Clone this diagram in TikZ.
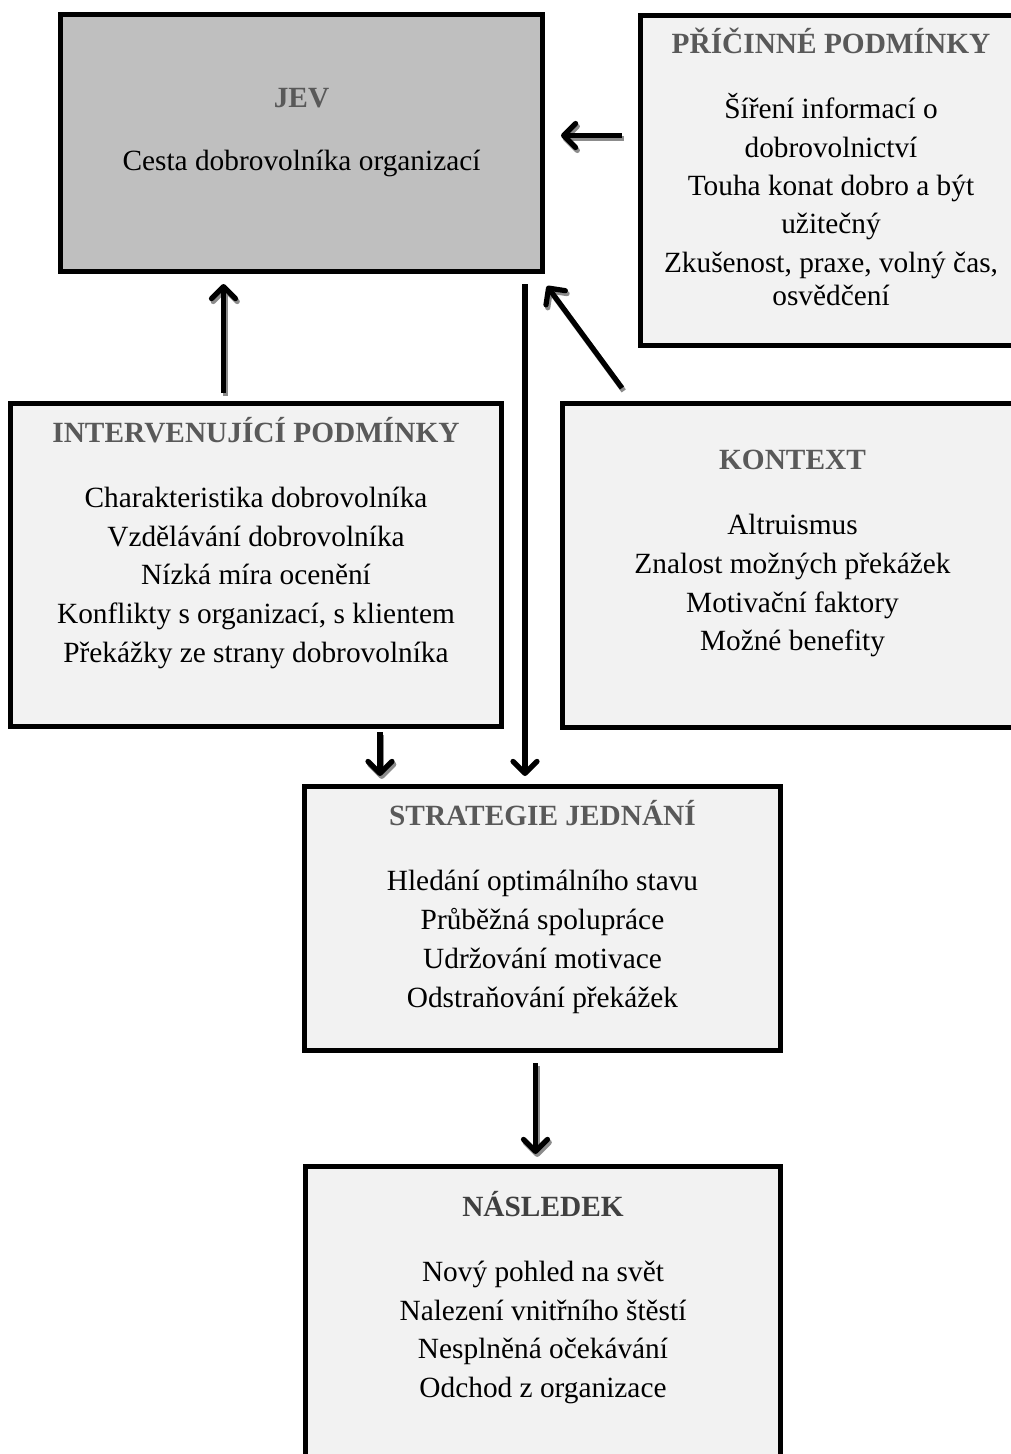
\documentclass[tikz,border=0pt]{standalone}
\usepackage{fontspec}
\setmainfont{Liberation Serif}
\usetikzlibrary{arrows.meta}
\newdimen\PX \PX=0.75pt
\definecolor{boxfill}{HTML}{F2F2F2}
\definecolor{jevfill}{HTML}{BFBFBF}
\definecolor{titlegray}{HTML}{595959}
\definecolor{titledark}{HTML}{404040}
\definecolor{shadowgray}{HTML}{8C8C8C}
\tikzset{
  box/.style={draw=black, line width=5\PX, fill=boxfill, rectangle, inner sep=0pt},
  ttl/.style={anchor=base, inner sep=0pt, font=\fontsize{22}{26}\selectfont\bfseries, text=titlegray},
  txt/.style={anchor=base, inner sep=0pt, font=\fontsize{22}{26}\selectfont, text=black},
  arr/.style={line width=3.9pt, -{Straight Barb[length=9pt,width=18pt,round]}},
  arrshadow/.style={arr, draw=shadowgray, transform canvas={shift={(1.3pt,-2.2pt)}}},
}
\begin{document}
\begin{tikzpicture}[x=0.75pt, y=-0.75pt]
\useasboundingbox (0,0) rectangle (1011,1454);
\clip (0,0) rectangle (1011,1454);

% boxes
\node[box, fill=jevfill, minimum width=482\PX, minimum height=257\PX] (jev) at (301.5,143) {};
\node[box, minimum width=381\PX, minimum height=330\PX] (pric) at (831,180) {};
\node[box, minimum width=491\PX, minimum height=323\PX] (interv) at (256,565) {};
\node[box, minimum width=460\PX, minimum height=323.5\PX] (kont) at (792.5,565.25) {};
\node[box, minimum width=476\PX, minimum height=264\PX] (strat) at (542.5,918.5) {};
\node[box, minimum width=475\PX, minimum height=313.5\PX] (nasl) at (543,1323.25) {};

% JEV
\node[ttl] (jevT) at (301.5,107) {JEV};
\node[txt] (jev1) at (301.5,170) {Cesta dobrovolníka organizací};

% PRICINNE PODMINKY
\node[ttl] (pricT) at (831,53) {PŘÍČINNÉ PODMÍNKY};
\node[txt] (pric1) at (831,118) {Šíření informací o};
\node[txt] (pric2) at (831,157) {dobrovolnictví};
\node[txt] (pric3) at (831,195) {Touha konat dobro a být};
\node[txt] (pric4) at (831,233) {užitečný};
\node[txt] (pric5) at (831,272) {Zkušenost, praxe, volný čas,};
\node[txt] (pric6) at (831,305) {osvědčení};

% INTERVENUJICI PODMINKY
\node[ttl] (intT) at (256,442) {INTERVENUJÍCÍ PODMÍNKY};
\node[txt] (int1) at (256,507) {Charakteristika dobrovolníka};
\node[txt] (int2) at (256,546) {Vzdělávání dobrovolníka};
\node[txt] (int3) at (256,584) {Nízká míra ocenění};
\node[txt] (int4) at (256,623) {Konflikty s organizací, s klientem};
\node[txt] (int5) at (256,662) {Překážky ze strany dobrovolníka};

% KONTEXT
\node[ttl] (konT) at (792.5,469) {KONTEXT};
\node[txt] (kon1) at (792.5,534) {Altruismus};
\node[txt] (kon2) at (792.5,573) {Znalost možných překážek};
\node[txt] (kon3) at (792.5,612) {Motivační faktory};
\node[txt] (kon4) at (792.5,650) {Možné benefity};

% STRATEGIE JEDNANI
\node[ttl] (strT) at (542.5,825) {STRATEGIE JEDNÁNÍ};
\node[txt] (str1) at (542.5,890) {Hledání optimálního stavu};
\node[txt] (str2) at (542.5,929) {Průběžná spolupráce};
\node[txt] (str3) at (542.5,968) {Udržování motivace};
\node[txt] (str4) at (542.5,1007) {Odstraňování překážek};

% NASLEDEK
\node[ttl, text=titledark] (nasT) at (543,1216) {NÁSLEDEK};
\node[txt] (nas1) at (543,1281) {Nový pohled na svět};
\node[txt] (nas2) at (543,1320) {Nalezení vnitřního štěstí};
\node[txt] (nas3) at (543,1358) {Nesplněná očekávání};
\node[txt] (nas4) at (543,1397) {Odchod z organizace};

% connector end points
\coordinate (pricOut) at (622,135.5);
\coordinate (jevInR) at (561,135.5);
\coordinate (intOut) at (223.5,393);
\coordinate (jevInB) at (223.5,284);
\coordinate (konOut) at (622,388);
\coordinate (jevInC) at (547,286);
\coordinate (jevOut) at (525,284);
\coordinate (strInA) at (525,776);
\coordinate (intOutB) at (380,732);
\coordinate (strInB) at (380,776);
\coordinate (strOut) at (535.5,1063);
\coordinate (nasIn) at (535.5,1154);

% shadows
\draw[arrshadow] (pricOut) -- (jevInR);
\draw[arrshadow] (intOut) -- (jevInB);
\draw[arrshadow] (konOut) -- (jevInC);
\draw[arrshadow] (intOutB) -- (strInB);
\draw[arrshadow] (strOut) -- (nasIn);
% arrows
\draw[arr] (pricOut) -- (jevInR);
\draw[arr] (intOut) -- (jevInB);
\draw[arr] (konOut) -- (jevInC);
\draw[arr] (jevOut) -- (strInA);
\draw[arr] (intOutB) -- (strInB);
\draw[arr] (strOut) -- (nasIn);
\end{tikzpicture}
\end{document}
